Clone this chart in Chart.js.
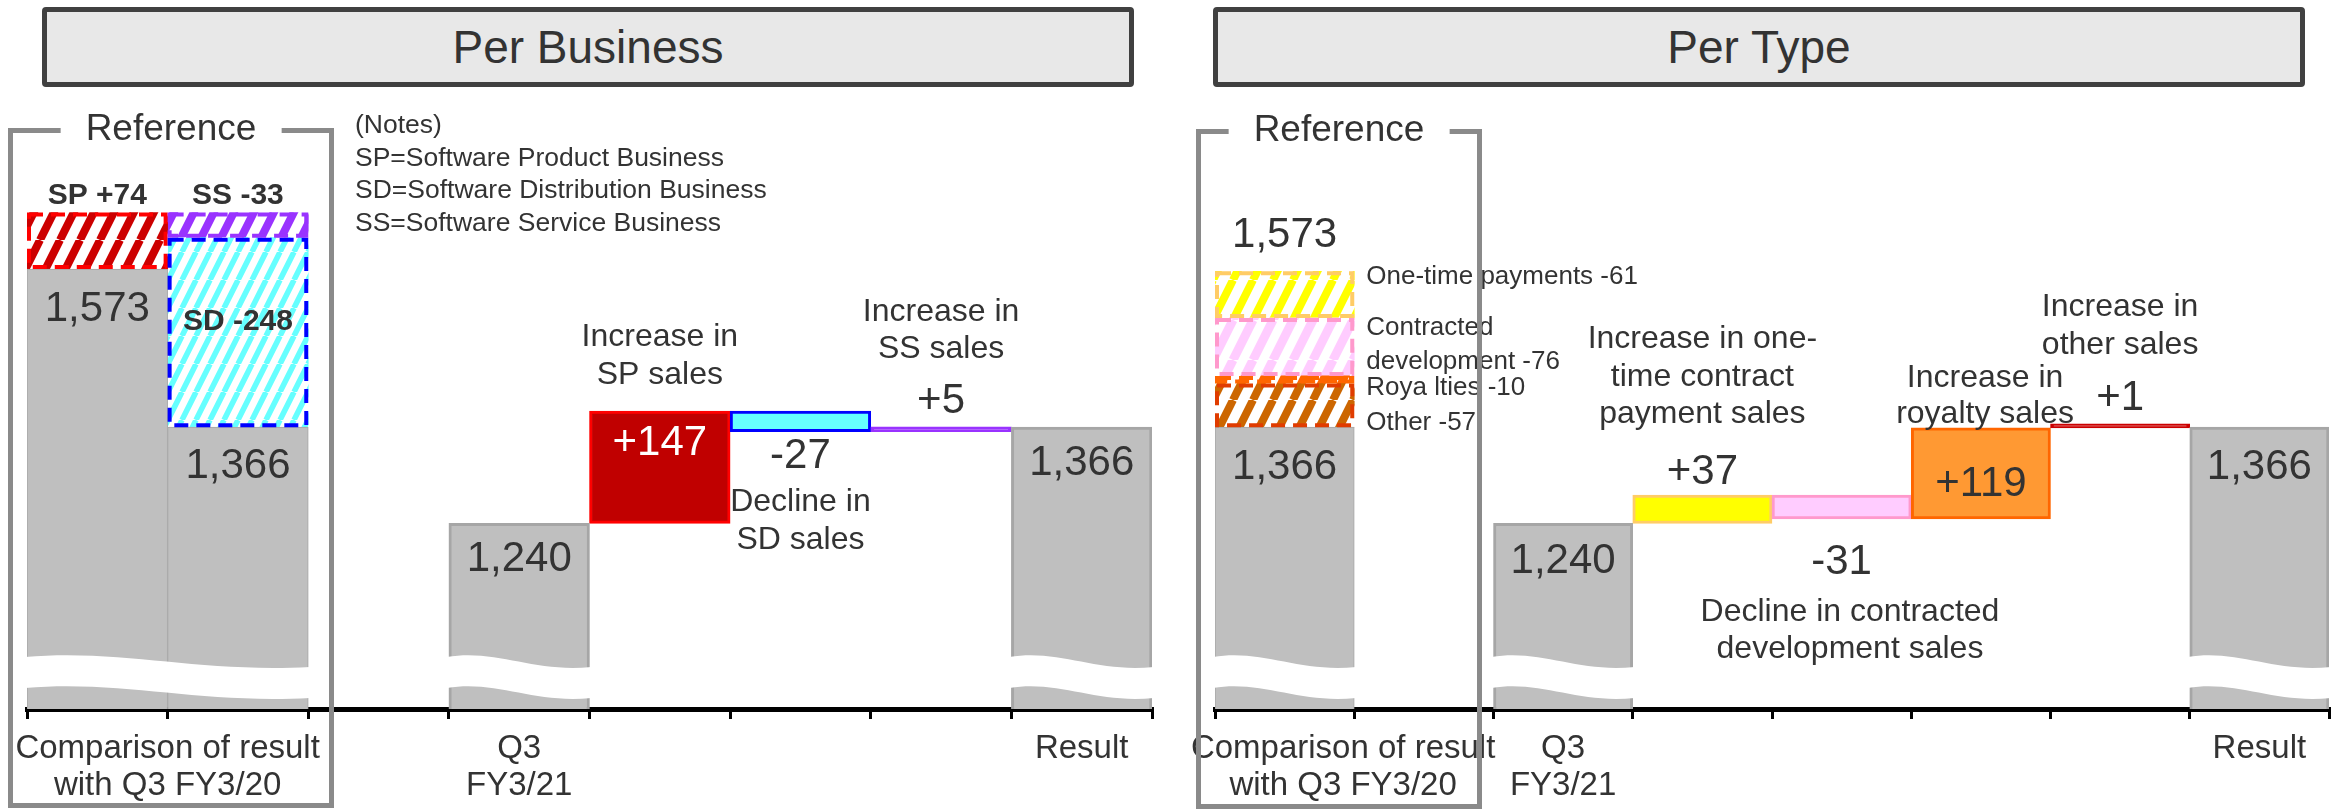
<!DOCTYPE html>
<html>
<head>
<meta charset="utf-8">
<script src="https://cdn.jsdelivr.net/npm/chart.js@4.4.1/dist/chart.umd.min.js"></script>
<style>
    html, body { margin: 0; padding: 0; background: #fff; }
    body { width: 2346px; height: 810px; position: relative; overflow: hidden;
           font-family: "Liberation Sans", Arial, sans-serif; color: #333; }
    canvas { position: absolute; top: 0; }
    #bizCanvas { left: 0; }
    #typeCanvas { left: 1173px; }
    .title { position: absolute; top: 7px; width: 1092px; height: 80px; box-sizing: border-box;
             border: 5px solid #404040; border-radius: 4px; background: #E8E8E8;
             font-size: 46px; line-height: 70px; text-align: center; color: #333; }
    .ref { position: absolute; height: 680px; box-sizing: border-box; border: 5px solid #8A8A8A; }
    .ref span { position: absolute; top: -25px; left: 50%; transform: translateX(-50%);
                background: #fff; padding: 0 25px; font-size: 37px; line-height: 40px; white-space: nowrap; }
    .notes { position: absolute; left: 355px; top: 108px; font-size: 26.5px; line-height: 32.5px; color: #333; }
</style>
</head>
<body>
<canvas id="bizCanvas" width="1173" height="810"></canvas>
<canvas id="typeCanvas" width="1173" height="810"></canvas>

<div class="title" style="left:42px;">Per Business</div>
<div class="title" style="left:1213px;">Per Type</div>
<div class="ref" style="left:8px; top:128px; width:326px;"><span>Reference</span></div>
<div class="ref" style="left:1196px; top:129px; width:286px;"><span>Reference</span></div>
<div class="notes">(Notes)<br>SP=Software Product Business<br>SD=Software Distribution Business<br>SS=Software Service Business</div>

<script>
// حدود المحور العمودي (المحور مقطوع من الأسفل)
const AXIS_MIN = 997;
const AXIS_MAX = 1700;

// ---- Per Business ----
const bizCats = ['Q3 FY3/20', 'Q3 FY3/20 vs result', '', 'Q3 FY3/21', 'SP', 'SD', 'SS', 'Result'];
const bizTotals = [1573, 1366, null, 1240, null, null, null, 1366];
const bizRefStart = 1573;          // عمود المرجع
const bizRefSP = 74;
const bizRefSD = -248;
const bizRefSS = -33;
const bizStart = 1240;
const bizSteps = [147, -27, 5];    // SP, SD, SS
const bizStepColors = ['#C00000', '#66FFFF', '#9933FF'];
const bizStepBorders = ['#FF0000', '#0000FF', '#9933FF'];

// ---- Per Type ----
const typeCats = ['Q3 FY3/20 vs result', '', 'Q3 FY3/21', 'One-time', 'Contracted', 'Royalties', 'Other', 'Result'];
const typeTotals = [1366, null, 1240, null, null, null, null, 1366];
const typeRefParts = [57, 10, 76, 61];   // Other, Royalties, Contracted, One-time (من الأسفل للأعلى)
const typeRefNames = ['Other -57', 'Roya lties -10', 'Contracted|development -76', 'One-time payments -61'];
const typeRefStripes = ['#CC6600', '#FF6600', '#FFCCFF', '#FFFF00'];
const typeRefDash = ['#E03C00', '#FF6600', '#FF99CC', '#FFCC66'];
const typeStart = 1240;
const typeSteps = [37, -31, 119, 1];
const typeStepColors = ['#FFFF00', '#FFCCFF', '#FF9933', '#CC0000'];
const typeStepBorders = ['#FFCC66', '#FF99CC', '#FF6600', '#CC0000'];

const FONT = '"Liberation Sans", Arial, sans-serif';
const fmt = v => v.toLocaleString('en-US');
const signed = v => (v > 0 ? '+' : '') + v;

function only(n, idx, range) {
    const a = Array(n).fill(null);
    a[idx] = range;
    return a;
}

// نقش مخطط مائل
function hatch(ctx, color, size, lw) {
    const c = document.createElement('canvas');
    c.width = size;
    c.height = size * 2;
    const g = c.getContext('2d');
    g.fillStyle = '#fff';
    g.fillRect(0, 0, size, size * 2);
    g.strokeStyle = color;
    g.lineWidth = lw;
    g.beginPath();
    for (let k = -1; k <= 1; k++) {
        g.moveTo(k * size, size * 2);
        g.lineTo(k * size + size, 0);
    }
    g.stroke();
    return ctx.createPattern(c, 'repeat');
}

// سلاسل الخطوات العائمة من القيمة الابتدائية
function stepBars(n, firstIdx, start, steps) {
    const a = Array(n).fill(null);
    let level = start;
    steps.forEach((s, k) => {
        a[firstIdx + k] = [level, level + s];
        level += s;
    });
    return a;
}

function spread(n, firstIdx, values) {
    const a = Array(n).fill(null);
    values.forEach((v, k) => a[firstIdx + k] = v);
    return a;
}

// الموجة البيضاء لقطع الأعمدة الرمادية
const wavePlugin = {
    id: 'wave',
    afterDatasetsDraw(chart) {
        const ctx = chart.ctx;
        const meta = chart.getDatasetMeta(0);
        const data = chart.data.datasets[0].data;
        const bottom = chart.chartArea.bottom;
        const groups = [];
        let cur = null;
        data.forEach((d, j) => {
            if (d == null) { cur = null; return; }
            if (!cur) { cur = []; groups.push(cur); }
            cur.push(meta.data[j]);
        });
        ctx.save();
        ctx.fillStyle = '#fff';
        groups.forEach(g => {
            const xa = g[0].x - g[0].width / 2 - 2;
            const xb = g[g.length - 1].x + g[g.length - 1].width / 2 + 2;
            const w = xb - xa;
            ctx.beginPath();
            ctx.moveTo(xa, bottom - 52);
            ctx.bezierCurveTo(xa + w * 0.35, bottom - 60, xa + w * 0.6, bottom - 36, xb, bottom - 42);
            ctx.lineTo(xb, bottom - 11);
            ctx.bezierCurveTo(xa + w * 0.6, bottom - 5, xa + w * 0.35, bottom - 29, xa, bottom - 21);
            ctx.closePath();
            ctx.fill();
        });
        ctx.restore();
    }
};

// إطار متقطع للأعمدة المخططة
const dashPlugin = {
    id: 'dashBorder',
    afterDatasetsDraw(chart) {
        const ctx = chart.ctx;
        chart.data.datasets.forEach((ds, di) => {
            if (!ds.dashColor) return;
            const meta = chart.getDatasetMeta(di);
            meta.data.forEach((el, j) => {
                if (ds.data[j] == null) return;
                const p = el.getProps(['x', 'y', 'base', 'width'], true);
                const lw = 4;
                const top = Math.min(p.y, p.base);
                const h = Math.abs(p.base - p.y);
                ctx.save();
                ctx.setLineDash([14, 8]);
                ctx.lineWidth = lw;
                ctx.strokeStyle = ds.dashColor;
                ctx.strokeRect(p.x - p.width / 2 + lw / 2, top + lw / 2, p.width - lw, h - lw);
                ctx.restore();
            });
        });
    }
};

function textPlugin(items, xLabels) {
    return {
        id: 'texts',
        afterDraw(chart) {
            const ctx = chart.ctx;
            const xs = chart.scales.x, ys = chart.scales.y;
            ctx.save();
            ctx.textBaseline = 'middle';
            items.forEach(it => {
                const x = xs.getPixelForValue(it.i) + (it.dx || 0);
                const yc = ys.getPixelForValue(it.at) + it.dy;
                const size = it.size || 42;
                const lh = it.lh || Math.round(size * 1.17);
                ctx.font = (it.bold ? 'bold ' : '') + size + 'px ' + FONT;
                ctx.fillStyle = it.color || '#333';
                ctx.textAlign = it.align || 'center';
                const n = it.t.length;
                it.t.forEach((s, k) => ctx.fillText(s, x, yc + (k - (n - 1) / 2) * lh));
            });
            ctx.font = '33px ' + FONT;
            ctx.fillStyle = '#333';
            ctx.textAlign = 'center';
            xLabels.forEach(l => {
                const x = xs.getPixelForValue(l.i);
                l.t.forEach((s, k) => ctx.fillText(s, x, chart.chartArea.bottom + 40 + k * 37));
            });
            ctx.restore();
        }
    };
}

function baseOptions(padLeft, padRight) {
    return {
        responsive: false,
        animation: false,
        devicePixelRatio: 1,
        layout: { padding: { left: padLeft, right: padRight, top: 172, bottom: 0 } },
        plugins: { legend: { display: false }, tooltip: { enabled: false } },
        datasets: { bar: { grouped: false, barPercentage: 1, categoryPercentage: 1 } },
        scales: {
            x: {
                offset: true,
                ticks: { display: false },
                grid: { offset: true, drawOnChartArea: false, drawTicks: true, tickLength: 10, color: '#000', lineWidth: 3 },
                border: { display: true, color: '#000', width: 5 },
                afterFit(s) { s.height = 101; }
            },
            y: { display: false, min: AXIS_MIN, max: AXIS_MAX }
        }
    };
}

// ===== الرسم الأول: حسب النشاط =====
(function () {
    const ctx = document.getElementById('bizCanvas').getContext('2d');
    const n = bizCats.length;
    const refEnd = bizRefStart + bizRefSP;             // 1,647
    const sdTop = bizTotals[1] - bizRefSD;             // 1,614
    const stepData = stepBars(n, 4, bizStart, bizSteps);
    const sp = stepData[4], sd = stepData[5], ss = stepData[6];

    const datasets = [
        {
            data: bizTotals.map(v => v == null ? null : [AXIS_MIN, v]),
            backgroundColor: '#BFBFBF',
            borderColor: '#A6A6A6',
            borderWidth: [1, 1, 0, 3, 0, 0, 0, 3]
        },
        {
            data: only(n, 0, [bizRefStart, refEnd]),
            backgroundColor: hatch(ctx, '#CC0000', 20, 8), borderWidth: 0, dashColor: '#FF0000'
        },
        {
            data: only(n, 1, [bizTotals[1], sdTop]),
            backgroundColor: hatch(ctx, '#66FFFF', 14, 5.5), borderWidth: 0, dashColor: '#0000FF'
        },
        {
            data: only(n, 1, [sdTop, sdTop - bizRefSS]),
            backgroundColor: hatch(ctx, '#9933FF', 20, 8), borderWidth: 0, dashColor: '#9933FF'
        },
        {
            data: stepData,
            backgroundColor: spread(n, 4, bizStepColors),
            borderColor: spread(n, 4, bizStepBorders),
            borderWidth: 3,
            borderSkipped: false,
            minBarLength: 5
        }
    ];

    const texts = [
        { i: 0, at: refEnd, dy: -17, t: ['SP ' + signed(bizRefSP)], size: 30, bold: true },
        { i: 1, at: refEnd, dy: -17, t: ['SS ' + signed(bizRefSS)], size: 30, bold: true },
        { i: 1, at: sdTop, dy: 84, t: ['SD ' + signed(bizRefSD)], size: 30, bold: true },
        { i: 0, at: bizTotals[0], dy: 40, t: [fmt(bizTotals[0])] },
        { i: 1, at: bizTotals[1], dy: 39, t: [fmt(bizTotals[1])] },
        { i: 3, at: bizTotals[3], dy: 36, t: [fmt(bizTotals[3])] },
        { i: 4, at: sp[1], dy: -55, t: ['Increase in', 'SP sales'], size: 32, lh: 38 },
        { i: 4, at: sp[1], dy: 32, t: [signed(bizSteps[0])], color: '#fff' },
        { i: 5, at: sd[1], dy: 25, t: [signed(bizSteps[1])] },
        { i: 5, at: sd[1], dy: 89, t: ['Decline in', 'SD sales'], size: 32, lh: 38 },
        { i: 6, at: ss[1], dy: -97, t: ['Increase in', 'SS sales'], size: 32, lh: 37 },
        { i: 6, at: ss[1], dy: -26, t: [signed(bizSteps[2])] },
        { i: 7, at: bizTotals[7], dy: 36, t: [fmt(bizTotals[7])] }
    ];
    const xLabels = [
        { i: 0.5, t: ['Comparison of result', 'with Q3 FY3/20'] },
        { i: 3, t: ['Q3', 'FY3/21'] },
        { i: 7, t: ['Result'] }
    ];

    new Chart(ctx, {
        type: 'bar',
        data: { labels: bizCats, datasets },
        options: baseOptions(27, 21),
        plugins: [wavePlugin, dashPlugin, textPlugin(texts, xLabels)]
    });
})();

// ===== الرسم الثاني: حسب النوع =====
(function () {
    const ctx = document.getElementById('typeCanvas').getContext('2d');
    const n = typeCats.length;
    const stepData = stepBars(n, 3, typeStart, typeSteps);

    const datasets = [
        {
            data: typeTotals.map(v => v == null ? null : [AXIS_MIN, v]),
            backgroundColor: '#BFBFBF',
            borderColor: '#A6A6A6',
            borderWidth: [1, 0, 3, 0, 0, 0, 0, 3]
        }
    ];
    const texts = [];
    let level = typeTotals[0];
    const refTops = [];
    typeRefParts.forEach((p, k) => {
        datasets.push({
            data: only(n, 0, [level, level + p]),
            backgroundColor: hatch(ctx, typeRefStripes[k], 20, k === 2 ? 9 : 8),
            borderWidth: 0,
            dashColor: typeRefDash[k]
        });
        level += p;
        refTops.push(level);
    });
    datasets.push({
        data: stepData,
        backgroundColor: spread(n, 3, typeStepColors),
        borderColor: spread(n, 3, typeStepBorders),
        borderWidth: 3,
        borderSkipped: false,
        minBarLength: 4
    });

    const sideDy = [39, 12, 27, 6];
    typeRefNames.forEach((name, k) => {
        texts.push({ i: 0.5, dx: 12, at: refTops[k], dy: sideDy[k], t: name.split('|'), size: 26, lh: 34, align: 'left' });
    });

    const one = stepData[3], con = stepData[4], roy = stepData[5], oth = stepData[6];
    texts.push(
        { i: 0, at: refTops[3], dy: -36, t: [fmt(bizRefStart)] },
        { i: 0, at: typeTotals[0], dy: 40, t: [fmt(typeTotals[0])] },
        { i: 2, at: typeTotals[2], dy: 38, t: [fmt(typeTotals[2])] },
        { i: 3, at: one[1], dy: -118, t: ['Increase in one-', 'time contract', 'payment sales'], size: 32, lh: 37.5 },
        { i: 3, at: one[1], dy: -23, t: [signed(typeSteps[0])] },
        { i: 4, at: con[1], dy: 44, t: [signed(typeSteps[1])] },
        { i: 4.06, at: con[1], dy: 112, t: ['Decline in contracted', 'development sales'], size: 32, lh: 37 },
        { i: 5, at: roy[1], dy: 57, t: [signed(typeSteps[2])] },
        { i: 5.03, at: roy[1], dy: -32, t: ['Increase in', 'royalty sales'], size: 32, lh: 36 },
        { i: 6, at: oth[1], dy: -29, t: [signed(typeSteps[3])] },
        { i: 6, at: oth[1], dy: -101, t: ['Increase in', 'other sales'], size: 32, lh: 38 },
        { i: 7, at: typeTotals[7], dy: 40, t: [fmt(typeTotals[7])] }
    );
    const xLabels = [
        { i: 0.42, t: ['Comparison of result', 'with Q3 FY3/20'] },
        { i: 2, t: ['Q3', 'FY3/21'] },
        { i: 7, t: ['Result'] }
    ];

    new Chart(ctx, {
        type: 'bar',
        data: { labels: typeCats, datasets },
        options: baseOptions(42, 17),
        plugins: [wavePlugin, dashPlugin, textPlugin(texts, xLabels)]
    });
})();
</script>
</body>
</html>
